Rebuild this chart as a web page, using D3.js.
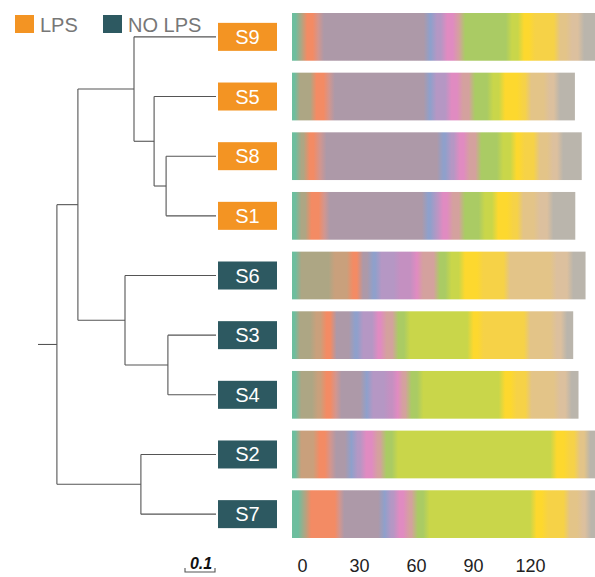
<!DOCTYPE html>
<html>
<head>
<meta charset="utf-8">
<script src="https://cdn.jsdelivr.net/npm/d3@7"></script>
<style>
  body { margin: 0; background: #fff; }
  svg { display: block; font-family: "Liberation Sans", Arial, sans-serif; }
</style>
</head>
<body>
<svg id="chart"></svg>
<script>
// samples top to bottom, as they sit on the tree
const samples = ["S9", "S5", "S8", "S1", "S6", "S3", "S4", "S2", "S7"];
const treatment = ["LPS", "LPS", "LPS", "LPS", "NO LPS", "NO LPS", "NO LPS", "NO LPS", "NO LPS"];
const groups = ["LPS", "NO LPS"];
const groupColors = ["#f39423", "#2d5961"];

// one colour per taxon, stacked in this order
const taxonColors = ["#6dbe9e", "#ada684", "#c9a07c", "#f38b64", "#d2968f", "#ad99a8",
  "#8fa0cb", "#b597c4", "#c490c1", "#e08bc1", "#d4a19e", "#aacb64",
  "#c9d64a", "#fdd82e", "#f6d247", "#e3c488", "#dcc09e", "#bab5ac"];

// abundance per taxon (same order as taxonColors)
const s9 = [3.4, 2.9, 0, 6.3, 2.6, 55.8, 3.7, 5.3, 0, 6.3, 3.2, 24.7, 6.3, 5.8, 13.2, 6.3, 6.3, 12];
const s5 = [2.5, 8.7, 0, 7.1, 2.6, 50, 3.5, 7.9, 0, 6.2, 6.2, 9.6, 6.2, 9.6, 4.2, 9.8, 5.3, 9.5];
const s8 = [3.3, 4.4, 0, 5.3, 3.5, 61.4, 4.4, 4.4, 0, 5.3, 6.1, 11.4, 7.0, 4.4, 7.9, 7.0, 5.3, 11.4];
const s1 = [3.3, 5.3, 0, 7.1, 2.6, 51.7, 4.4, 3.5, 0, 5.3, 6.2, 10.5, 7.0, 7.9, 5.3, 8.8, 7.0, 13.2];
const s6 = [3.3, 17.6, 9.6, 5.3, 0, 5.3, 4.4, 9.7, 8.7, 3.5, 8.8, 6.1, 7.1, 9.6, 14.1, 24.5, 8.8, 8.1];
const s3 = [2.5, 8.7, 5.3, 5.3, 0, 9.7, 4.4, 7.9, 0, 4.4, 6.2, 6.2, 33.3, 5.3, 24.6, 14.0, 5.3, 4.9];
const s4 = [3.3, 8.8, 4.4, 5.3, 2.6, 13.2, 3.5, 8.8, 4.4, 2.6, 4.4, 6.2, 43, 6.1, 7.9, 14.9, 6.1, 5.3];
const s2 = [3.2, 0, 9.6, 6.2, 2.6, 7.9, 3.5, 4.4, 0, 6.2, 4.4, 6.2, 83.5, 7.1, 5.3, 5.3, 0, 10];
const s7 = [4.9, 3.5, 0, 15.8, 1.7, 21.1, 3.5, 4.4, 0, 5.3, 4.4, 6.1, 56.3, 6.2, 11.4, 7.0, 4.2, 8];
const abundances = [s9, s5, s8, s1, s6, s3, s4, s2, s7];

const xTicks = [0, 30, 60, 90, 120];

// tree: ((S9,(S5,(S8,S1))),(S6,(S3,S4))),(S2,S7) with branch lengths
const tree = {len: 0.063, children: [
  {len: 0.07, children: [
    {len: 0.187, children: [
      {name: "S9"},
      {len: 0.067, children: [
        {name: "S5"},
        {len: 0.04, children: [{name: "S8"}, {name: "S1"}]}
      ]}
    ]},
    {len: 0.157, children: [
      {name: "S6"},
      {len: 0.143, children: [{name: "S3"}, {name: "S4"}]}
    ]}
  ]},
  {len: 0.28, children: [{name: "S2"}, {name: "S7"}]}
]};

const width = 595, height = 577;
const svg = d3.select("#chart").attr("width", width).attr("height", height);

// rows
const y = d3.scaleBand().domain(samples).range([13, 538]).paddingInner(0.2).paddingOuter(0);
const rowMid = s => y(s) + y.bandwidth() / 2;

// bar scale
const x = d3.scaleLinear().domain([0, 100]).range([292, 482]);

// --- stacked bars with soft boundaries (gradient per bar)
const defs = svg.append("defs");
const blend = 3.2; // px of colour blending each side of a boundary

samples.forEach((s, i) => {
  const vals = abundances[i];
  const total = d3.sum(vals);
  const x0 = x(0), x1 = x(total);
  const grad = defs.append("linearGradient")
    .attr("id", "g" + s)
    .attr("gradientUnits", "userSpaceOnUse")
    .attr("x1", x0).attr("x2", x1).attr("y1", 0).attr("y2", 0);
  let acc = 0;
  vals.forEach((v, k) => {
    if (v <= 0) return;
    const a = x(acc), b = x(acc + v);
    acc += v;
    let p = a + blend, q = b - blend;
    if (p > q) { p = q = (a + b) / 2; }
    if (a === x0) p = a;
    if (Math.abs(b - x1) < 0.01) q = b;
    grad.append("stop").attr("offset", (p - x0) / (x1 - x0)).attr("stop-color", taxonColors[k]);
    grad.append("stop").attr("offset", (q - x0) / (x1 - x0)).attr("stop-color", taxonColors[k]);
  });
  svg.append("rect")
    .attr("x", x0)
    .attr("y", y(s))
    .attr("width", x1 - x0)
    .attr("height", y.bandwidth())
    .attr("fill", "url(#g" + s + ")");
});

// --- axis
const axis = svg.append("g")
  .attr("transform", "translate(10,556)")
  .call(d3.axisBottom(x).tickValues(xTicks).tickSize(0).tickPadding(0));
axis.select(".domain").remove();
axis.selectAll("text")
  .attr("dy", "0.9em")
  .attr("font-size", 18)
  .attr("font-family", "Liberation Sans, Arial, sans-serif")
  .attr("fill", "#222");

// --- tree
const root = d3.hierarchy(tree);
const bl = d3.scaleLinear().domain([0, 0.1]).range([0, 30]);
const treeX0 = 38, leafX = 216;
root.eachBefore(d => {
  d.dist = (d.parent ? d.parent.dist : 0) + (d.data.len || 0);
});
root.eachAfter(d => {
  if (!d.children) {
    d.px = leafX;
    d.py = rowMid(d.data.name);
  } else {
    d.px = treeX0 + bl(d.dist);
    d.py = (d.children[0].py + d.children[d.children.length - 1].py) / 2;
  }
});

const tg = svg.append("g").attr("stroke", "#555").attr("stroke-width", 1.1).attr("fill", "none");
// root stub
tg.append("line").attr("x1", treeX0).attr("x2", root.px).attr("y1", root.py).attr("y2", root.py);
root.descendants().forEach(d => {
  if (d.parent) {
    tg.append("line").attr("x1", d.parent.px).attr("x2", d.px).attr("y1", d.py).attr("y2", d.py);
  }
  if (d.children) {
    tg.append("line").attr("x1", d.px).attr("x2", d.px)
      .attr("y1", d.children[0].py).attr("y2", d.children[d.children.length - 1].py);
  }
});

// scale bar
const sbx = 185;
svg.append("path")
  .attr("d", `M${sbx},568V572H${sbx + bl(0.1)}V568`)
  .attr("fill", "none").attr("stroke", "#555").attr("stroke-width", 1.1);
svg.append("text")
  .attr("x", sbx + bl(0.1) / 2 + 1).attr("y", 569)
  .attr("text-anchor", "middle")
  .attr("font-size", 16).attr("font-weight", "bold").attr("font-style", "italic")
  .attr("fill", "#111")
  .text("0.1");

// --- sample labels
const color = d3.scaleOrdinal().domain(groups).range(groupColors);
const labels = svg.append("g").selectAll("g").data(samples).join("g")
  .attr("transform", s => `translate(218,${rowMid(s)})`);
labels.append("rect")
  .attr("x", 0).attr("y", -14).attr("width", 59).attr("height", 28)
  .attr("fill", (s, i) => color(treatment[i]));
labels.append("text")
  .attr("x", 29.5).attr("y", 7)
  .attr("text-anchor", "middle")
  .attr("font-size", 20)
  .attr("fill", "#fff")
  .text(s => s);

// --- legend
const lg = svg.append("g");
const legendX = [15, 103];
groups.forEach((g, i) => {
  lg.append("rect").attr("x", legendX[i]).attr("y", 15).attr("width", 19).attr("height", 18).attr("fill", color(g));
  lg.append("text").attr("x", legendX[i] + 25).attr("y", 32)
    .attr("font-size", 20).attr("fill", "#777").text(g);
});
</script>
</body>
</html>
